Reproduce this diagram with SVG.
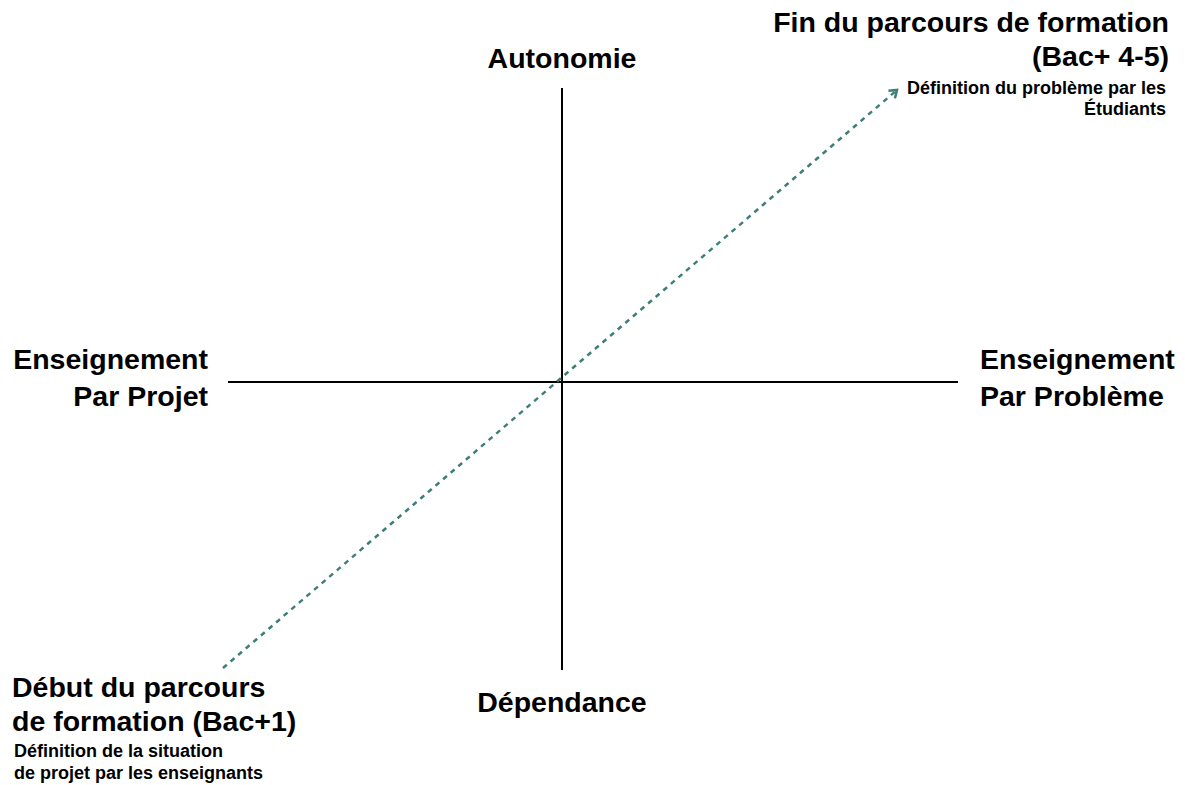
<svg xmlns="http://www.w3.org/2000/svg" width="1185" height="785" viewBox="0 0 1185 785">
<style>
.t{font-family:"Liberation Sans",Arial,sans-serif;font-weight:bold;font-size:28.5px;fill:#000}
.s{font-family:"Liberation Sans",Arial,sans-serif;font-weight:bold;font-size:18px;fill:#000}
.ax{stroke:#000;stroke-width:2;fill:none}
.dash{stroke:#3d7f78;stroke-width:2.5;stroke-dasharray:5 5;fill:none}
</style>
<defs>
<marker id="ah" markerWidth="12" markerHeight="12" refX="9" refY="6" orient="auto" markerUnits="userSpaceOnUse">
<path d="M2,1 L9,6 L2,11" fill="none" stroke="#3d7f78" stroke-width="2.5"/>
</marker>
</defs>
<rect width="1185" height="785" fill="#fff"/>
<g id="connectors">
<line class="ax" x1="562" y1="88" x2="562" y2="670"/>
<line class="ax" x1="228" y1="382" x2="958" y2="382"/>
<line class="dash" x1="223" y1="668" x2="897" y2="90" marker-end="url(#ah)"/>
</g>
<g id="autonomie"><text class="t" x="562" y="68" text-anchor="middle">Autonomie</text></g>
<g id="dependance"><text class="t" x="562" y="712" text-anchor="middle">Dépendance</text></g>
<g id="projet"><text class="t" x="208" y="369" text-anchor="end">Enseignement</text><text class="t" x="208" y="406" text-anchor="end">Par Projet</text></g>
<g id="probleme"><text class="t" x="980" y="369">Enseignement</text><text class="t" x="980" y="406">Par Problème</text></g>
<g id="fin">
<text class="t" x="1169" y="32" text-anchor="end">Fin du parcours de formation</text>
<text class="t" x="1169" y="66" text-anchor="end">(Bac+ 4-5)</text>
<text class="s" x="1166" y="94" text-anchor="end">Définition du problème par les</text>
<text class="s" x="1166" y="115" text-anchor="end">Étudiants</text>
</g>
<g id="debut">
<text class="t" x="12" y="697">Début du parcours</text>
<text class="t" x="12" y="731">de formation (Bac+1)</text>
<text class="s" x="14" y="757">Définition de la situation</text>
<text class="s" x="14" y="779">de projet par les enseignants</text>
</g>
</svg>
